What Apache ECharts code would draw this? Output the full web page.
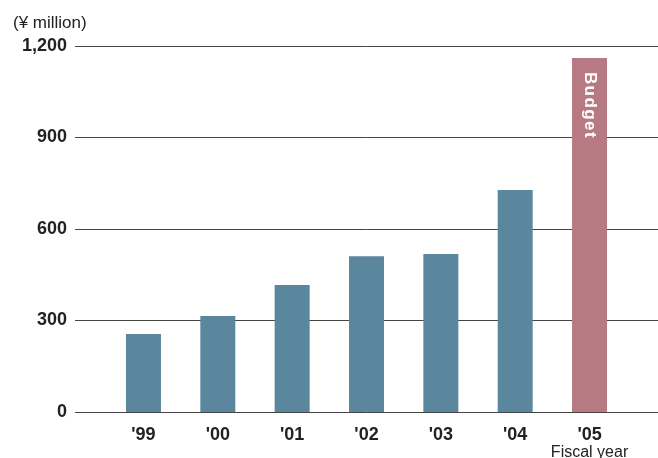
<!DOCTYPE html>
<html>
<head>
<meta charset="utf-8">
<script src="https://cdn.jsdelivr.net/npm/echarts@6/dist/echarts.min.js"></script>
<style>
html,body{margin:0;padding:0;background:#fff;}
#c{width:658px;height:458px;}
</style>
</head>
<body>
<div id="c"></div>
<script>
var categories = ["'99", "'00", "'01", "'02", "'03", "'04", "'05"];
var values = [256, 315, 416, 511, 518, 728, 1161];
var budgetIndex = 6;
var yTicks = [0, 300, 600, 900, 1200];
var unitLabel = '(¥ million)';
var xAxisTitle = 'Fiscal year';
var budgetLabel = 'Budget';

var FONT = '"Liberation Sans", Arial, Helvetica, sans-serif';
var BLUE = '#5b879e';
var PINK = '#b87a82';

var chart = echarts.init(document.getElementById('c'), null, {renderer: 'canvas'});

var barData = values.map(function (v, i) {
  var item = {value: v, itemStyle: {color: i === budgetIndex ? PINK : BLUE}};
  if (i === budgetIndex) {
    item.label = {
      show: true,
      position: 'insideTop',
      distance: 14,
      rotate: -90,
      align: 'left',
      verticalAlign: 'middle',
      formatter: budgetLabel.split('').join('\u200A'),
      color: '#fff',
      fontFamily: FONT,
      fontWeight: 'bold',
      fontSize: 17
    };
  }
  return item;
});

var option = {
  animation: false,
  backgroundColor: '#fff',
  graphic: [{
    type: 'text',
    left: 13,
    top: 15,
    style: {text: unitLabel, fontFamily: FONT, fontSize: 17, fill: '#222'}
  }],
  grid: [
    {left: 75, right: 0, top: 46, bottom: 46, containLabel: false, outerBoundsMode: 'none'},
    {left: 106.3, right: 31.3, top: 46, bottom: 46, containLabel: false, outerBoundsMode: 'none'}
  ],
  xAxis: [
    {gridIndex: 0, type: 'value', show: false, min: 0, max: 1},
    {
      gridIndex: 1, type: 'category', data: categories,
      axisLine: {show: false}, axisTick: {show: false},
      axisLabel: {
        interval: 0,
        margin: 14,
        fontFamily: FONT, fontSize: 18, fontWeight: 'bold', color: '#222',
        lineHeight: 18,
        formatter: function (v, i) {
          return i === budgetIndex ? v + '\n{s|' + xAxisTitle + '}' : v;
        },
        rich: {
          s: {fontFamily: FONT, fontSize: 16, fontWeight: 'normal', color: '#222', lineHeight: 17}
        }
      }
    }
  ],
  yAxis: [
    {
      gridIndex: 0, type: 'value', min: yTicks[0], max: yTicks[yTicks.length - 1],
      interval: yTicks[1] - yTicks[0],
      axisLine: {show: false}, axisTick: {show: false},
      axisLabel: {
        margin: 8,
        fontFamily: FONT, fontSize: 18, fontWeight: 'bold', color: '#222',
        formatter: function (v) { return v.toLocaleString('en-US'); }
      },
      splitLine: {show: true, lineStyle: {color: '#444', width: 1}}
    },
    {
      gridIndex: 1, type: 'value', min: yTicks[0], max: yTicks[yTicks.length - 1],
      interval: yTicks[1] - yTicks[0], show: false, splitLine: {show: false}
    }
  ],
  series: [{
    type: 'bar',
    xAxisIndex: 1, yAxisIndex: 1,
    barWidth: 35,
    data: barData
  }]
};
chart.setOption(option);
</script>
</body>
</html>
